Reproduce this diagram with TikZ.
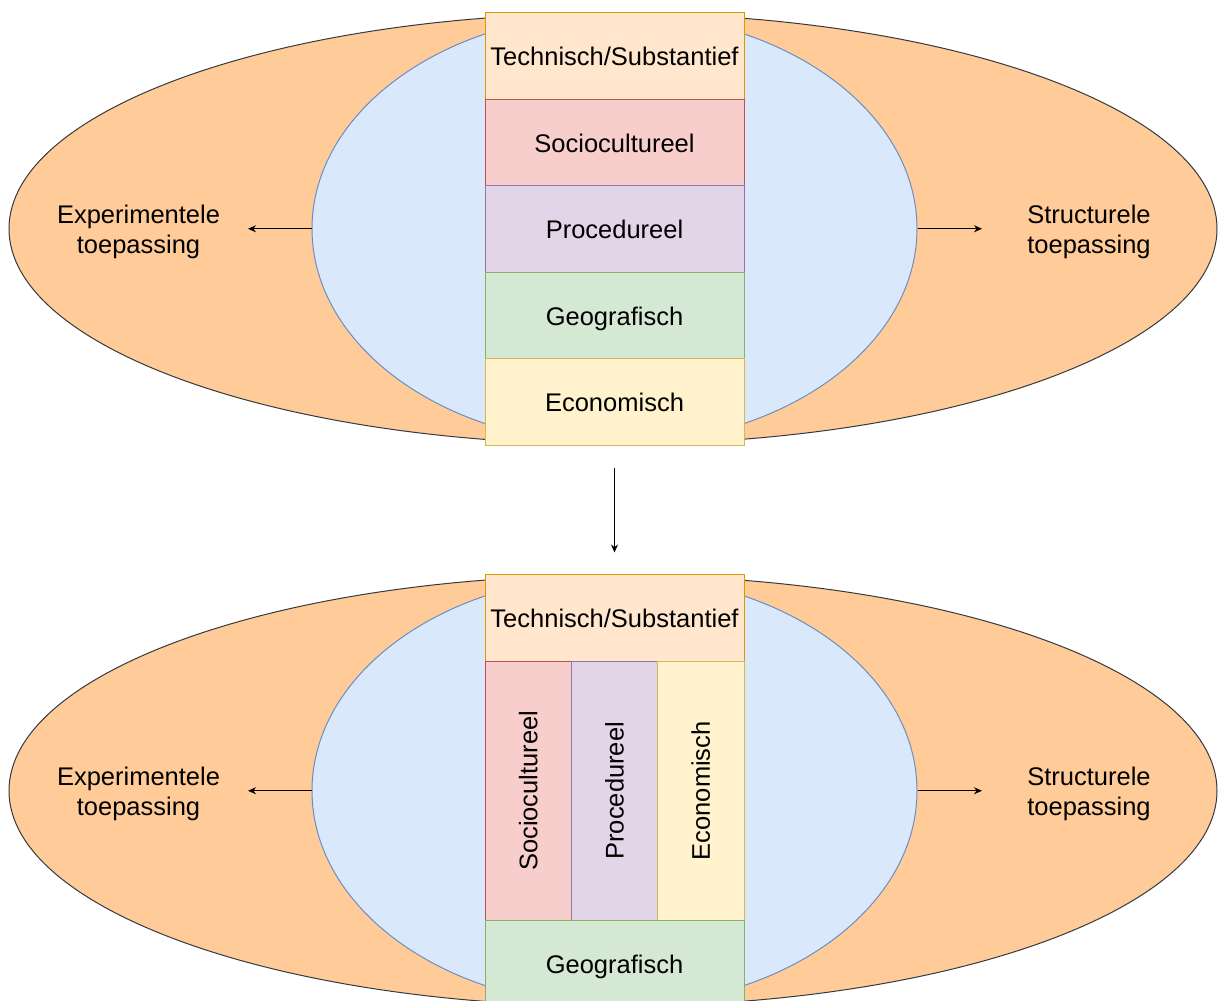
\documentclass[tikz,border=0pt]{standalone}
\usepackage{fontspec}
\setmainfont{Liberation Sans}
\usetikzlibrary{shapes.geometric,arrows.meta}

\definecolor{outerfill}{HTML}{FFCC99}
\definecolor{outerline}{HTML}{36393D}
\definecolor{innerfill}{HTML}{DAE8FC}
\definecolor{innerline}{HTML}{6C8EBF}
\definecolor{techfill}{HTML}{FFE6CC}
\definecolor{techline}{HTML}{D79B00}
\definecolor{sociofill}{HTML}{F8CECC}
\definecolor{socioline}{HTML}{B85450}
\definecolor{procfill}{HTML}{E1D5E7}
\definecolor{procline}{HTML}{9673A6}
\definecolor{geofill}{HTML}{D5E8D4}
\definecolor{geoline}{HTML}{82B366}
\definecolor{ecofill}{HTML}{FFF2CC}
\definecolor{ecoline}{HTML}{D6B656}

\tikzset{
  lbl/.style={font=\fontsize{25.5pt}{30pt}\selectfont, text=black},
  outerell/.style={ellipse, draw=outerline, fill=outerfill, line width=1pt,
    minimum width=1208pt, minimum height=431pt, inner sep=0pt},
  innerell/.style={ellipse, draw=innerline, fill=innerfill, line width=1pt,
    minimum width=605pt, minimum height=431pt, inner sep=0pt},
  band/.style={rectangle, lbl, line width=1pt, minimum width=259pt,
    minimum height=86.5pt, inner sep=0pt, text height=19.5pt, text depth=0pt},
  column/.style={rectangle, lbl, line width=1pt, minimum width=86.33pt,
    minimum height=259.5pt, inner sep=0pt},
  tech/.style={draw=techline, fill=techfill},
  socio/.style={draw=socioline, fill=sociofill},
  proc/.style={draw=procline, fill=procfill},
  geo/.style={draw=geoline, fill=geofill},
  eco/.style={draw=ecoline, fill=ecofill},
  side/.style={lbl, align=center, inner sep=0pt},
  arr/.style={line width=1pt, draw=black, -{Stealth[length=8pt,width=7pt]}},
}

\begin{document}
\begin{tikzpicture}[x=1pt, y=-1pt]
  \clip (0,0) rectangle (1218,1001);
  \fill[white] (0,0) rectangle (1218,1001);

  % ---------- upper model: stacked layers ----------
  \node[outerell] (aOut) at (613,228.75) {};
  \node[innerell] (aIn) at (614.5,228.75) {};

  \node[band, tech]  (aTech)  at (614.5,55.75)  {Technisch/Substantief};
  \node[band, socio] (aSocio) at (614.5,142.25) {Sociocultureel};
  \node[band, proc]  (aProc)  at (614.5,228.75) {Procedureel};
  \node[band, geo]   (aGeo)   at (614.5,315.25) {Geografisch};
  \node[band, eco]   (aEco)   at (614.5,401.75) {Economisch};

  \node[side] (aExp) at (138.5,232) {Experimentele\\toepassing};
  \node[side] (aStr) at (1089,232) {Structurele\\toepassing};
  \coordinate (aExpEnd) at (248,228.75);
  \coordinate (aStrEnd) at (982,228.75);
  \draw[arr] (aIn.west) -- (aExpEnd);
  \draw[arr] (aIn.east) -- (aStrEnd);

  % ---------- lower model: three layers side by side ----------
  \begin{scope}[yshift=-562pt]
    \node[outerell] (bOut) at (613,228.75) {};
    \node[innerell] (bIn) at (614.5,228.75) {};

    \node[band, tech] (bTech) at (614.5,55.75) {Technisch/Substantief};
    \node[column, socio] (bSocio) at (528.17,228.75) {\rotatebox{90}{Sociocultureel}};
    \node[column, proc]  (bProc)  at (614.5,228.75)  {\rotatebox{90}{Procedureel}};
    \node[column, eco]   (bEco)   at (700.83,228.75) {\rotatebox{90}{Economisch}};
    \node[band, geo] (bGeo) at (614.5,401.75) {Geografisch};

    \node[side] (bExp) at (138.5,232) {Experimentele\\toepassing};
    \node[side] (bStr) at (1089,232) {Structurele\\toepassing};
    \coordinate (bExpEnd) at (248,228.75);
    \coordinate (bStrEnd) at (982,228.75);
    \draw[arr] (bIn.west) -- (bExpEnd);
    \draw[arr] (bIn.east) -- (bStrEnd);
  \end{scope}

  % transition from the upper to the lower model
  \draw[arr, shorten <=22pt, shorten >=21.5pt] (aEco.south) -- (bTech.north);
\end{tikzpicture}
\end{document}
